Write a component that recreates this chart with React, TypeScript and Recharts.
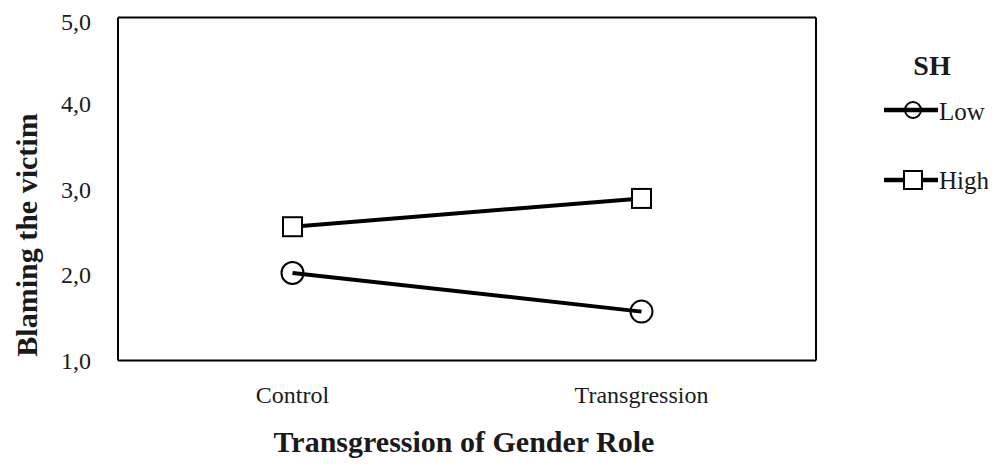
import { LineChart, Line, XAxis, YAxis, Legend } from "recharts";

const conditions = ["Control", "Transgression"];
const lowSH = [2.02, 1.57];
const highSH = [2.56, 2.89];
const yTicks = [1, 2, 3, 4, 5];

const FONT = "'Liberation Serif', 'Times New Roman', serif";
const INK = "#1a1a1a";

const data = conditions.map((c, i) => ({ condition: c, low: lowSH[i], high: highSH[i] }));

const fmt = (v: number) => v.toFixed(1).replace(".", ",");

function SquareDot(props: any) {
  const { cx, cy, index } = props;
  if (cx == null || cy == null) return null;
  return (
    <rect
      key={`sq-${index}`}
      x={cx - 9.5}
      y={cy - 9.5}
      width={19}
      height={19}
      fill="#fff"
      stroke="#000"
      strokeWidth={2}
    />
  );
}

function LegendBox() {
  return (
    <svg width={115} height={160} style={{ display: "block" }}>
      <text x={48} y={35} textAnchor="middle" fontFamily={FONT} fontWeight="bold" fontSize={28} fill={INK}>
        SH
      </text>
      <line x1={0} x2={54} y1={70} y2={70} stroke="#000" strokeWidth={4.5} />
      <circle cx={29} cy={70} r={8} fill="none" stroke="#000" strokeWidth={2} />
      <text x={55} y={80} fontFamily={FONT} fontSize={25} fill={INK}>
        Low
      </text>
      <line x1={0} x2={54} y1={140} y2={140} stroke="#000" strokeWidth={4.5} />
      <rect x={20} y={131} width={18} height={18} fill="#fff" stroke="#000" strokeWidth={2} />
      <text x={55} y={149} fontFamily={FONT} fontSize={25} fill={INK}>
        High
      </text>
    </svg>
  );
}

export default function App() {
  return (
    <LineChart
      width={980}
      height={451}
      data={data}
      margin={{ top: 8.5, right: 171, bottom: 0, left: 0 }}
    >
      <XAxis
        dataKey="condition"
        height={98.5}
        padding={{ left: 174.5, right: 174.5 }}
        axisLine={{ stroke: "#000", strokeWidth: 2 }}
        tickLine={false}
        tickSize={0}
        tickMargin={25}
        tick={{ fontSize: 24, fill: INK, fontFamily: FONT }}
        label={(p: any) => {
          const vb = p.viewBox;
          return (
            <text
              x={vb.x + vb.width / 2 - 3}
              y={vb.y + 91.5}
              textAnchor="middle"
              fontFamily={FONT}
              fontWeight="bold"
              fontSize={30}
              fill={INK}
            >
              Transgression of Gender Role
            </text>
          );
        }}
      />
      <XAxis
        xAxisId="top"
        dataKey="condition"
        orientation="top"
        height={1}
        padding={{ left: 174.5, right: 174.5 }}
        axisLine={{ stroke: "#000", strokeWidth: 2 }}
        tick={false}
        tickLine={false}
      />
      <YAxis
        domain={[1, 5]}
        ticks={yTicks}
        width={110}
        axisLine={{ stroke: "#000", strokeWidth: 2 }}
        tickLine={false}
        tickSize={0}
        tickMargin={27}
        tickFormatter={fmt}
        tick={{ fontSize: 24, fill: INK, fontFamily: FONT }}
        label={(p: any) => {
          const vb = p.viewBox;
          const x = 29;
          const y = vb.y + vb.height / 2 + 46;
          return (
            <text
              x={x}
              y={y}
              transform={`rotate(-90, ${x}, ${y})`}
              textAnchor="middle"
              fontFamily={FONT}
              fontWeight="bold"
              fontSize={30}
              fill={INK}
            >
              Blaming the victim
            </text>
          );
        }}
      />
      <YAxis
        yAxisId="right"
        orientation="right"
        domain={[1, 5]}
        width={1}
        axisLine={{ stroke: "#000", strokeWidth: 2 }}
        tick={false}
        tickLine={false}
      />
      <Legend
        layout="horizontal"
        verticalAlign="middle"
        align="center"
        content={() => <LegendBox />}
        wrapperStyle={{ left: 876, top: 32, width: 115, height: 160 }}
      />
      <Line
        dataKey="low"
        name="Low"
        stroke="#000"
        strokeWidth={4}
        dot={{ r: 11, fill: "none", stroke: "#000", strokeWidth: 2 }}
        isAnimationActive={false}
      />
      <Line
        dataKey="high"
        name="High"
        stroke="#000"
        strokeWidth={4}
        dot={(p: any) => <SquareDot {...p} />}
        isAnimationActive={false}
      />
    </LineChart>
  );
}
